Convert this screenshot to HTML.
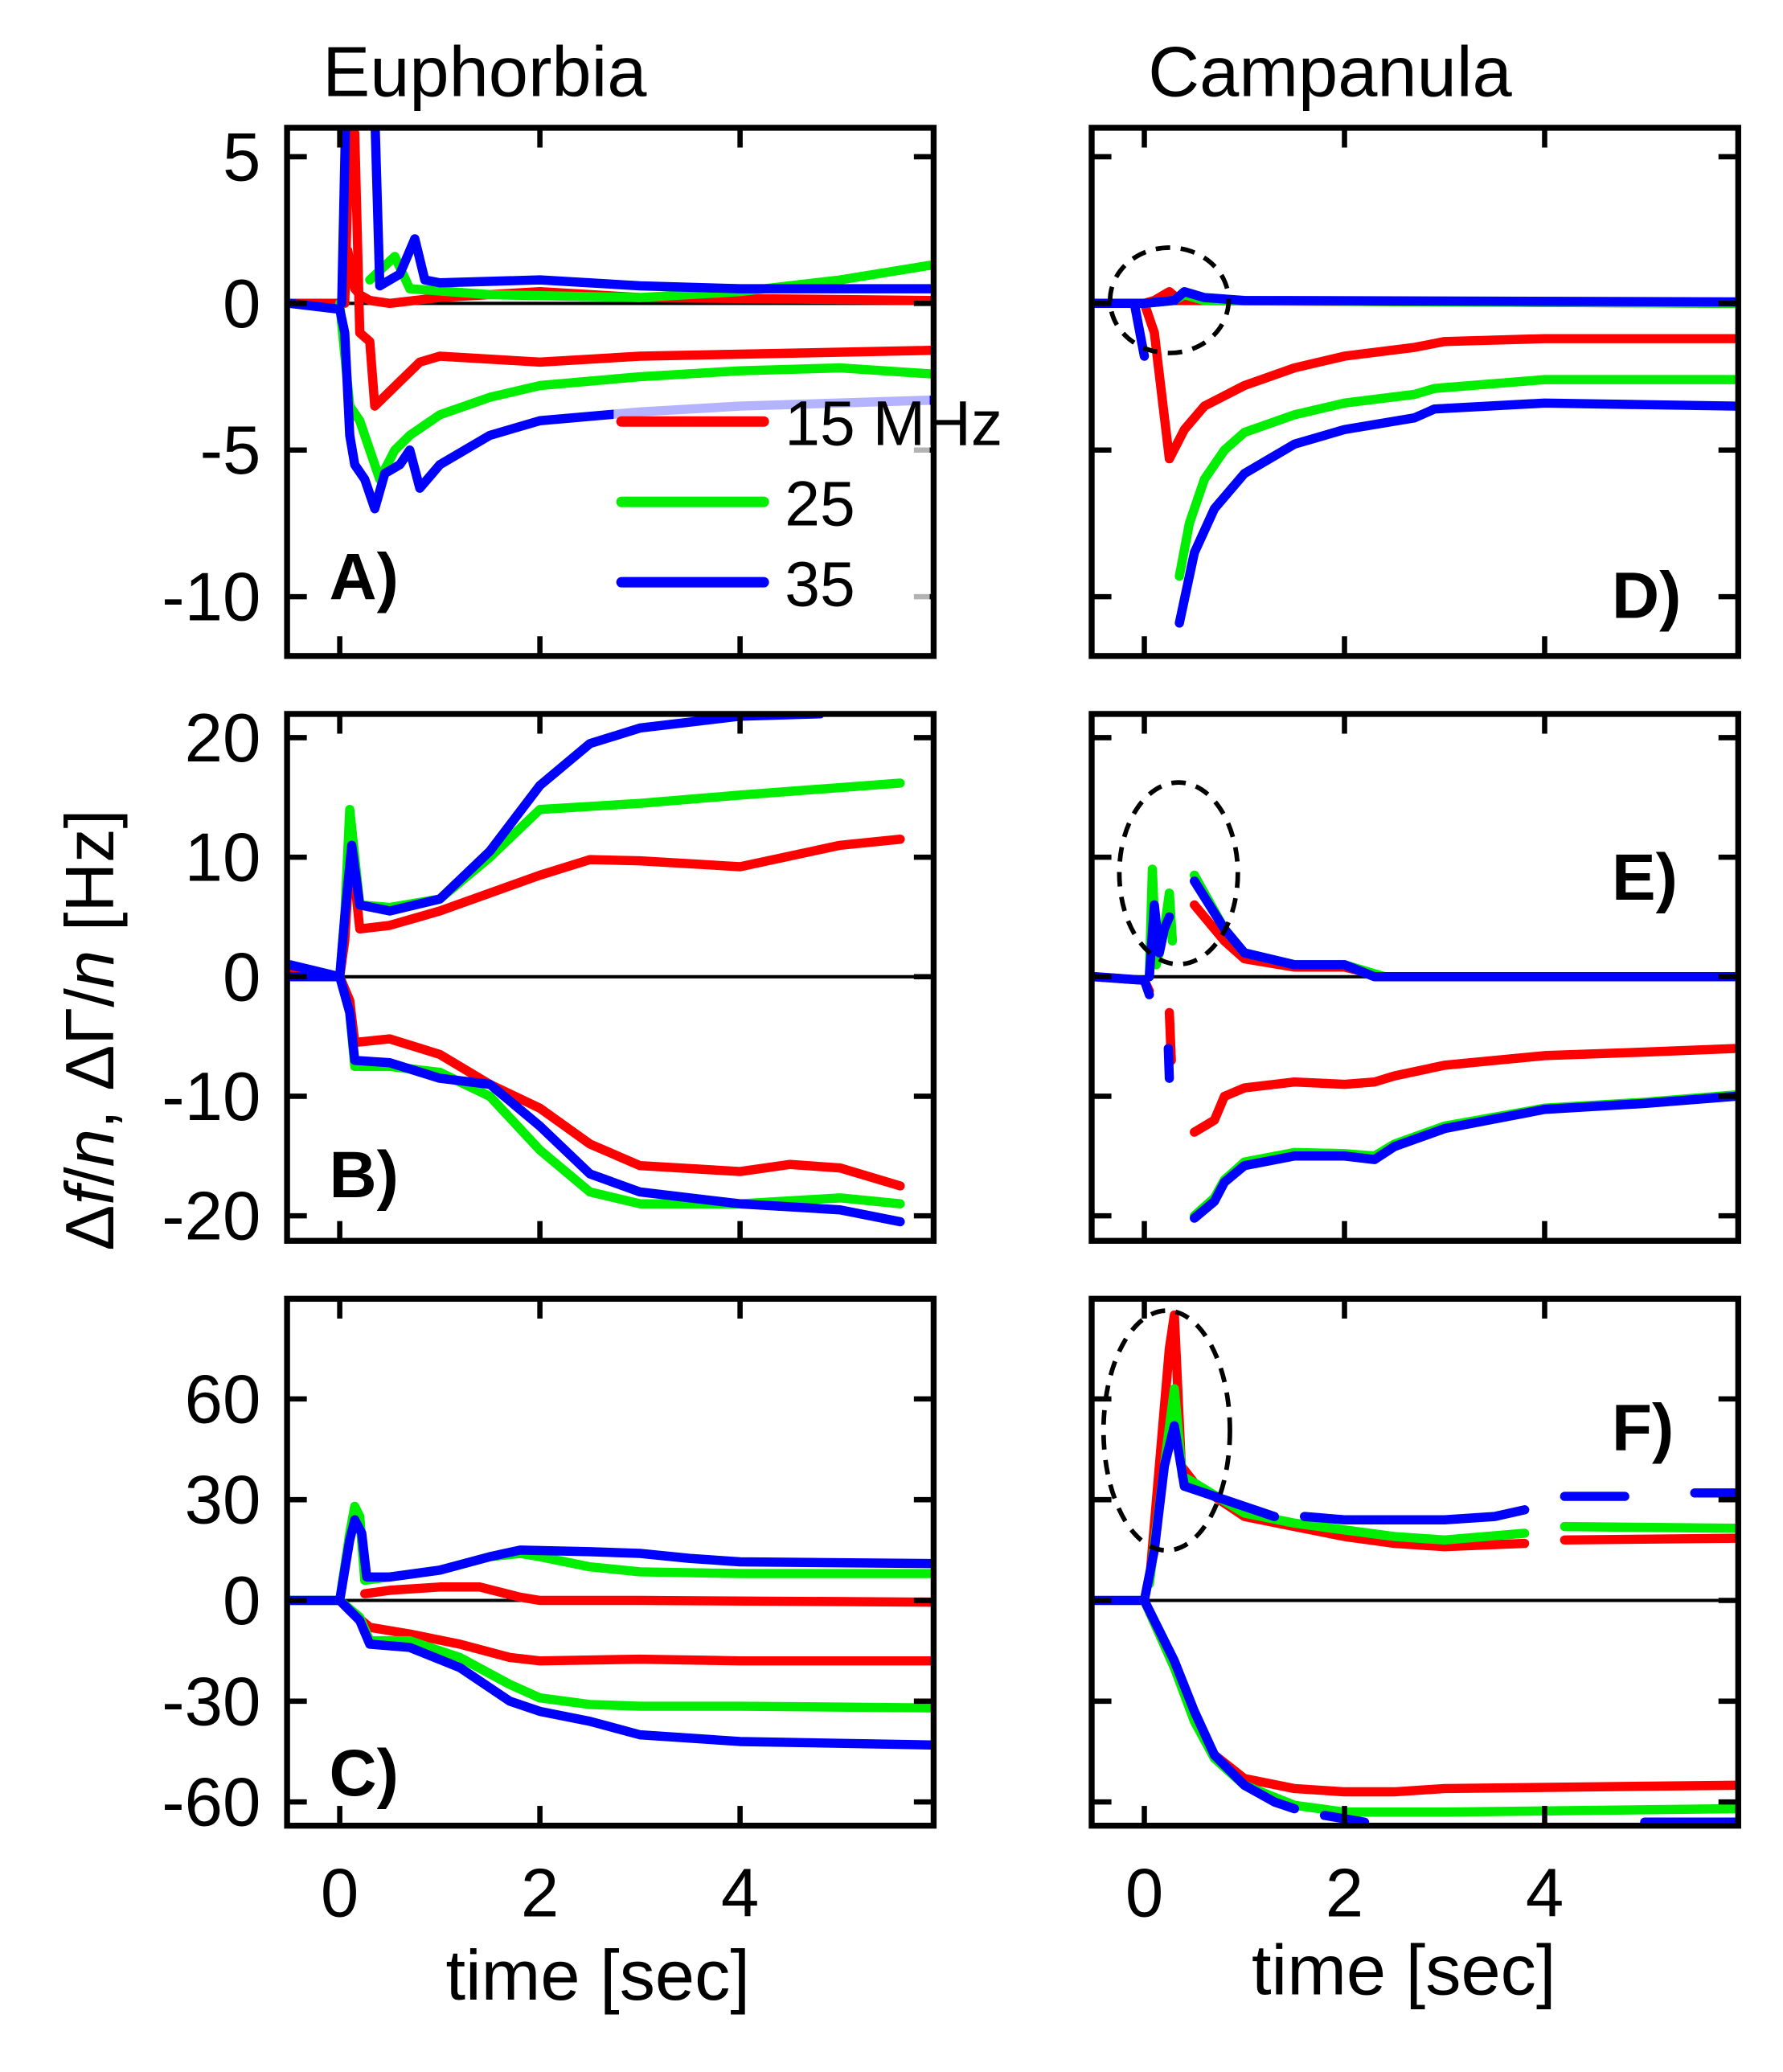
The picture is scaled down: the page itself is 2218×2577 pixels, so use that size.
<!DOCTYPE html>
<html><head><meta charset="utf-8"><style>
html,body{margin:0;padding:0;background:#fff;}
svg{display:block;}
text{font-family:"Liberation Sans",sans-serif;fill:#000;}
</style></head><body>
<svg id="fig" width="2218" height="2577" viewBox="0 0 1354 1573" preserveAspectRatio="none" xmlns="http://www.w3.org/2000/svg">
<text x="368" y="73" font-size="54" text-anchor="middle">Euphorbia</text>
<text x="1010" y="73" font-size="54" text-anchor="middle">Campanula</text>
<text transform="translate(86,782) rotate(-90)" font-size="52" text-anchor="middle">Δ<tspan font-style="italic">f</tspan>/<tspan font-style="italic">n</tspan>, ΔΓ/<tspan font-style="italic">n</tspan> [Hz]</text>
<text x="454" y="1518" font-size="54" text-anchor="middle">time [sec]</text>
<text x="1066" y="1514" font-size="54" text-anchor="middle">time [sec]</text>
<g id="plots"></g>
</svg>
<script>
// ---- data ----
const colors = {r:"#ff0000", g:"#00ee00", b:"#0000ff"};
const xTicks = [0, 2, 4];
const xTickLabels = ["0", "2", "4"];
const yTicksA = [5, 0, -5, -10];
const yTicksB = [20, 10, 0, -10, -20];
const yTicksC = [60, 30, 0, -30, -60];
const legendLabels = ["15 MHz", "25", "35"];

const seriesA = [
 ["r", [[-0.5,0],[0,0],[0.05,0.3],[0.08,1.8],[0.15,0.5],[0.2,0.3],[0.3,0.1],[0.5,0],[1,0.2],[2,0.4],[3,0.2],[5.9,0.1]]],
 ["r", [[0.05,0],[0.1,6.5],[0.15,5.8],[0.2,-1],[0.3,-1.3],[0.35,-3.5],[0.5,-3],[0.8,-2],[1,-1.8],[2,-2],[3,-1.8],[5.9,-1.6]]],
 ["g", [[0.3,0.8],[0.55,1.6],[0.7,0.5],[1.5,0.3],[3,0.2],[4,0.4],[5,0.8],[5.9,1.3]]],
 ["g", [[0,0],[0.1,-3.5],[0.2,-4],[0.3,-5],[0.4,-6],[0.55,-5],[0.7,-4.5],[1,-3.8],[1.5,-3.2],[2,-2.8],[3,-2.5],[4,-2.3],[5,-2.2],[5.9,-2.4]]],
 ["b", [[0.02,0],[0.06,6.5]]],
 ["b", [[0.35,6.5],[0.4,0.6],[0.6,1],[0.75,2.2],[0.85,0.8],[1,0.7],[2,0.8],[3,0.6],[4,0.5],[5.9,0.5]]],
 ["b", [[-0.5,0],[0,-0.2],[0.05,-1],[0.1,-4.5],[0.15,-5.5],[0.25,-6],[0.35,-7],[0.45,-5.8],[0.6,-5.5],[0.7,-5],[0.8,-6.3],[1,-5.5],[1.5,-4.5],[2,-4],[3,-3.7],[4,-3.5],[5.9,-3.3]]]
];
const seriesD = [
 ["r", [[-0.5,0],[0,0],[0.1,0.1],[0.25,0.4],[0.35,0.1],[5.9,0]]],
 ["r", [[0,0],[0.1,-1],[0.25,-5.3],[0.4,-4.3],[0.6,-3.5],[1,-2.8],[1.5,-2.2],[2,-1.8],[2.7,-1.5],[3,-1.3],[4,-1.2],[5.9,-1.2]]],
 ["g", [[-0.5,0],[0,0],[0.3,0.1],[0.4,0.3],[0.6,0.1],[5.9,0]]],
 ["g", [[0.35,-9.3],[0.45,-7.5],[0.6,-6],[0.8,-5],[1,-4.4],[1.5,-3.8],[2,-3.4],[2.7,-3.1],[2.9,-2.9],[4,-2.6],[5.9,-2.6]]],
 ["b", [[-0.5,0],[0,0],[0.3,0.1],[0.4,0.4],[0.6,0.2],[1,0.1],[5.9,0.05]]],
 ["b", [[-0.5,0],[-0.1,0],[0,-1.8]]],
 ["b", [[0.35,-10.9],[0.5,-8.5],[0.7,-7],[1,-5.8],[1.5,-4.8],[2,-4.3],[2.7,-3.9],[2.9,-3.6],[4,-3.4],[5.9,-3.5]]]
];
const seriesB = [
 ["r", [[-0.5,0.5],[0,0],[0.05,3],[0.1,10],[0.15,8],[0.2,4],[0.5,4.3],[1,5.5],[1.5,7],[2,8.5],[2.5,9.8],[3,9.7],[4,9.2],[5,11],[5.6,11.5]]],
 ["g", [[0,0],[0.05,5],[0.1,14],[0.2,6],[0.5,5.8],[1,6.5],[1.5,10],[2,14],[3,14.5],[4,15.2],[5.6,16.2]]],
 ["b", [[-0.5,1],[0,0],[0.05,5],[0.12,11],[0.2,6],[0.5,5.5],[1,6.5],[1.5,10.5],[2,16],[2.5,19.5],[3,20.8],[4,21.8],[4.8,22]]],
 ["r", [[0,0],[0.1,-2],[0.15,-5.5],[0.5,-5.2],[1,-6.5],[1.5,-9],[2,-11],[2.5,-14],[3,-15.8],[4,-16.3],[4.5,-15.7],[5,-16],[5.6,-17.5]]],
 ["g", [[0,0],[0.1,-3],[0.15,-7.5],[0.5,-7.5],[1,-8],[1.5,-10],[2,-14.5],[2.5,-18],[3,-19],[4,-19],[5,-18.5],[5.6,-19]]],
 ["b", [[-0.5,0],[0,0],[0.1,-3],[0.15,-7],[0.5,-7.2],[1,-8.5],[1.5,-9],[2,-12.5],[2.5,-16.5],[3,-18],[4,-19],[5,-19.5],[5.6,-20.5]]]
];
const seriesE = [
 ["r", [[-0.5,0],[0,-0.3],[0.05,-1.2]]],
 ["g", [[0.05,0],[0.08,9],[0.12,1],[0.2,4],[0.25,7],[0.28,3]]],
 ["b", [[-0.5,0],[0,-0.3],[0.05,-1.5]]],
 ["b", [[0.05,0],[0.1,6],[0.15,2],[0.2,4],[0.25,5]]],
 ["r", [[0.25,-3],[0.27,-7]]],
 ["b", [[0.24,-6],[0.25,-8.5]]],
 ["r", [[0.5,6],[0.8,3],[1,1.5],[1.5,0.8],[2,0.8],[2.4,0],[5.9,0]]],
 ["g", [[0.5,8.5],[0.8,4],[1,2],[1.5,1],[2,1],[2.4,0],[5.9,0]]],
 ["b", [[0.5,8],[0.8,4],[1,2],[1.5,1],[2,1],[2.3,0],[5.9,0]]],
 ["r", [[0.5,-13],[0.7,-12],[0.8,-10],[1,-9.3],[1.5,-8.8],[2,-9],[2.3,-8.8],[2.5,-8.3],[3,-7.4],[4,-6.6],[5,-6.3],[5.9,-6]]],
 ["g", [[0.5,-20],[0.7,-18.5],[0.8,-17],[1,-15.5],[1.5,-14.7],[2,-14.8],[2.3,-15],[2.5,-14],[3,-12.5],[4,-11],[5,-10.5],[5.9,-9.9]]],
 ["b", [[0.5,-20.2],[0.7,-18.8],[0.8,-17.2],[1,-15.8],[1.5,-15],[2,-15],[2.3,-15.3],[2.5,-14.2],[3,-12.7],[4,-11.1],[5,-10.6],[5.9,-10]]]
];
const seriesC = [
 ["g", [[-0.5,0],[0,0],[0.1,20],[0.15,28],[0.2,25],[0.25,6],[0.5,7],[1,9],[1.5,13],[1.8,14],[2,13],[2.5,10],[3,8.5],[4,8],[5.9,8]]],
 ["b", [[-0.5,0],[0,0],[0.1,18],[0.15,24],[0.22,20],[0.27,7],[0.5,7],[1,9],[1.5,13],[1.8,15],[2.5,14.5],[3,14],[3.5,12.5],[4,11.5],[5.9,11]]],
 ["r", [[0.25,2],[0.5,3],[1,4],[1.4,4],[1.8,1],[2,0],[3,0],[5.9,-0.5]]],
 ["r", [[0,0],[0.1,-3],[0.3,-8],[0.7,-10],[1.2,-13],[1.7,-17],[2,-18],[3,-17.5],[4,-18],[5.9,-18]]],
 ["g", [[0,0],[0.2,-5],[0.3,-12],[0.7,-12],[1.2,-17],[1.7,-25],[2,-29],[2.5,-31],[3,-31.5],[4,-31.5],[5.9,-32]]],
 ["b", [[0,0],[0.2,-6],[0.3,-13],[0.7,-14],[1.2,-20],[1.7,-30],[2,-33],[2.5,-36],[3,-40],[4,-42],[5.9,-43]]]
];
const seriesF = [
 ["r", [[0.05,5],[0.15,40],[0.25,75],[0.3,85],[0.37,40],[0.5,35],[1,25],[1.5,22],[2,19],[2.5,17],[3,16],[3.8,17]]],
 ["r", [[4.2,18],[5.9,18.5]]],
 ["g", [[0.05,5],[0.2,40],[0.3,63],[0.38,37],[0.5,35],[1,26],[1.5,23],[2,21],[2.5,19],[3,18],[3.8,20]]],
 ["g", [[4.2,22],[5.9,21.5]]],
 ["b", [[-0.5,0],[0,0],[0.1,15],[0.2,40],[0.3,52],[0.4,34],[0.5,33],[1,28],[1.3,25]]],
 ["b", [[1.6,25],[2,24],[3,24],[3.5,25],[3.8,27]]],
 ["b", [[4.2,31],[4.8,31]]],
 ["b", [[5.5,32],[5.9,32]]],
 ["r", [[0,0],[0.3,-20],[0.5,-35],[0.7,-46],[1,-53],[1.5,-56],[2,-57],[2.5,-57],[3,-56],[5.9,-55]]],
 ["g", [[0,0],[0.3,-20],[0.5,-36],[0.7,-47],[1,-55],[1.5,-61],[2,-63],[3,-63],[5.9,-62]]],
 ["b", [[0,0],[0.3,-18],[0.5,-33],[0.7,-46],[1,-55],[1.3,-60],[1.5,-62]]],
 ["b", [[1.8,-64],[2.2,-66]]],
 ["b", [[5.0,-66],[5.9,-66]]]
];

// ---- layout ----
const NS = "http://www.w3.org/2000/svg";
const root = document.getElementById("plots");
const cols = [{x0:218, x1:709, t0:258, t2:410}, {x0:829, x1:1320, t0:869, t2:1021}];
const rows = [
 {y0:97, y1:498, v1:5, p1:119, v2:-10, p2:453, ticks:yTicksA},
 {y0:542, y1:942, v1:20, p1:560, v2:-20, p2:923, ticks:yTicksB},
 {y0:986, y1:1386, v1:60, p1:1062, v2:-60, p2:1368, ticks:yTicksC}
];
const panels = [
 {c:0, r:0, s:seriesA, label:"A)", lx:250, ly:455, ell:null},
 {c:0, r:1, s:seriesB, label:"B)", lx:250, ly:909, ell:null},
 {c:0, r:2, s:seriesC, label:"C)", lx:250, ly:1363, ell:null},
 {c:1, r:0, s:seriesD, label:"D)", lx:1224, ly:469, ell:[888,228,45,40]},
 {c:1, r:1, s:seriesE, label:"E)", lx:1224, ly:683, ell:[895,663,45,69]},
 {c:1, r:2, s:seriesF, label:"F)", lx:1224, ly:1101, ell:[886,1086,48,91]}
];
function mk(tag, attrs, parent){const e=document.createElementNS(NS,tag);for(const k in attrs)e.setAttribute(k,attrs[k]);(parent||root).appendChild(e);return e;}

panels.forEach((p, i) => {
  const C = cols[p.c], R = rows[p.r];
  const xs = t => C.t0 + (C.t2 - C.t0) / 2 * t;
  const ys = v => R.p1 + (v - R.v1) * (R.p2 - R.p1) / (R.v2 - R.v1);
  const g = mk("g", {});
  
  
  const cp = mk("clipPath", {id:"cp"+i}, g);
  mk("rect", {x:C.x0, y:R.y0, width:C.x1-C.x0, height:R.y1-R.y0}, cp);
  const z = mk("line", {x1:C.x0, x2:C.x1, y1:ys(0), y2:ys(0), stroke:"#000", "stroke-width":2.5}, g);
  
  
  const sg = mk("g", {"clip-path":"url(#cp"+i+")"}, g);
  p.s.forEach(([col, pts]) => {
    const d = pts.map((q,j) => (j?"L":"M") + xs(q[0]).toFixed(1) + "," + ys(q[1]).toFixed(1)).join("");
    const path = mk("path", {d:d, fill:"none", stroke:colors[col], "stroke-width":7, "stroke-linejoin":"round", "stroke-linecap":"round"}, sg);
    
    
  });
  const fr = mk("rect", {x:C.x0, y:R.y0, width:C.x1-C.x0, height:R.y1-R.y0, fill:"none", stroke:"#000", "stroke-width":4.5}, g);
  
  
  xTicks.forEach((t, k) => {
    mk("line", {x1:xs(t), x2:xs(t), y1:R.y0, y2:R.y0+15, stroke:"#000", "stroke-width":4}, g);
    mk("line", {x1:xs(t), x2:xs(t), y1:R.y1, y2:R.y1-15, stroke:"#000", "stroke-width":4}, g);
    if (p.r === 2) {
      const tl = mk("text", {x:xs(t), y:1455, "font-size":52, "text-anchor":"middle"}, g);
      tl.textContent = xTickLabels[k];
      
      
    }
  });
  R.ticks.forEach(v => {
    mk("line", {x1:C.x0, x2:C.x0+15, y1:ys(v), y2:ys(v), stroke:"#000", "stroke-width":4}, g);
    mk("line", {x1:C.x1, x2:C.x1-15, y1:ys(v), y2:ys(v), stroke:"#000", "stroke-width":4}, g);
    if (p.c === 0) {
      const tl = mk("text", {x:198, y:ys(v)+18, "font-size":52, "text-anchor":"end"}, g);
      tl.textContent = String(v);
      
      
    }
  });
  if (p.ell) {
    const el = mk("ellipse", {cx:p.ell[0], cy:p.ell[1], rx:p.ell[2], ry:p.ell[3], fill:"none", stroke:"#000", "stroke-width":3.5, "stroke-dasharray":"11,8"}, g);
    
    
  }
  const lb = mk("text", {x:p.lx, y:p.ly, "font-size":50, "font-weight":"bold"}, g);
  lb.textContent = p.label;
  
  
});

const legCols = ["r","g","b"];
legendLabels.forEach((lab, k) => {
  const y = 320 + k * 61;
  mk("rect", {x:466, y:y-26, width:240, height:52, fill:"#fff", opacity:0.7});
  const ln = mk("line", {x1:472, x2:580, y1:y, y2:y, stroke:colors[legCols[k]], "stroke-width":8, "stroke-linecap":"round"});
  
  
  const t = mk("text", {x:596, y:y+18, "font-size":48});
  t.textContent = lab;
  
  
});
</script>
</body></html>
